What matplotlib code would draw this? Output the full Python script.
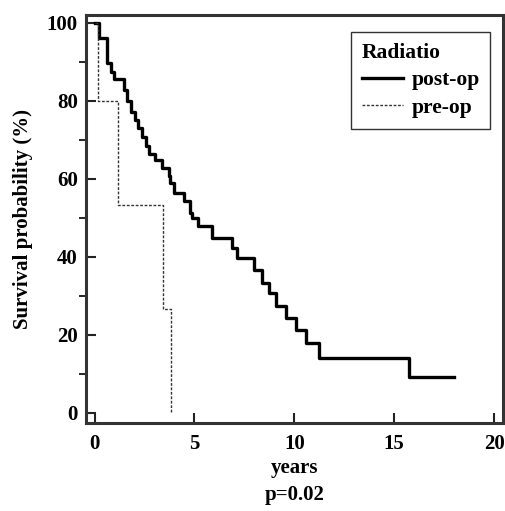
import matplotlib.pyplot as plt
from matplotlib.ticker import MultipleLocator

plt.rcParams.update({"font.family": ["Liberation Serif", "DejaVu Serif"],
                     "font.weight": "bold", "axes.labelweight": "bold"})

# Kaplan-Meier steps (years, survival %)
post_t = [0, 0.2, 0.62, 0.82, 0.95, 1.45, 1.62, 1.8, 2.0, 2.17, 2.35, 2.55, 2.72,
          3.04, 3.38, 3.72, 3.78, 3.96, 4.46, 4.8, 4.88, 5.2, 5.89, 6.89, 7.11,
          7.98, 8.4, 8.73, 9.07, 9.57, 10.08, 10.58, 11.25, 15.75, 18.0]
post_s = [100, 96, 89.8, 87.5, 85.6, 82.9, 80, 77.1, 75, 73, 70.8, 68.5, 66.3,
          64.9, 62.7, 60.8, 58.9, 56.3, 54.2, 51.2, 49.9, 47.8, 44.8, 42.2, 39.7,
          36.7, 33.3, 30.7, 27.3, 24.4, 21.3, 17.9, 14.0, 9.3, 9.3]
pre_t = [0, 0.16, 1.16, 3.41, 3.83]
pre_s = [100, 80, 53.3, 26.7, 0]
xticks = [0, 5, 10, 15, 20]
yticks = [0, 20, 40, 60, 80, 100]

fig = plt.figure(figsize=(5.06, 5.11), dpi=100)
ax = fig.add_axes([86/506, 1 - 423/511, 417/506, 408/511])

ax.step(post_t, post_s, where="post", color="black", lw=2.4, label="post-op")
ax.step(pre_t, pre_s, where="post", color="#333333", lw=1.0,
        dashes=(2.0, 1.2), label="pre-op")

ax.set_xlim(-0.43, 20.45)
ax.set_ylim(-2.6, 102)
ax.set_xticks(xticks)
ax.set_yticks(yticks)
ax.yaxis.set_minor_locator(MultipleLocator(10))
ax.tick_params(direction="in", labelsize=15, width=1.5, color="#222222")
ax.tick_params(axis="y", which="major", length=7, pad=6)
ax.tick_params(axis="y", which="minor", length=5, width=1.2)
ax.tick_params(axis="x", length=7, pad=8)
for sp in ax.spines.values():
    sp.set_linewidth(2.2)
    sp.set_color("#333333")

ax.set_ylabel("Survival probability (%)", fontsize=15, labelpad=10)
ax.set_xlabel("years\np=0.02", fontsize=15, labelpad=3, linespacing=1.45)

leg = ax.legend(title="Radiatio", loc="upper left",
                bbox_to_anchor=(351/506, 1 - 32/511), bbox_transform=fig.transFigure,
                fontsize=15.5, title_fontsize=15.5, alignment="left",
                handlelength=1.9, frameon=True, fancybox=False, borderaxespad=0,
                borderpad=0.5, labelspacing=0.35, handletextpad=0.4)
leg.get_frame().set_edgecolor("black")
leg.get_frame().set_linewidth(1.0)
leg.get_title().set_fontweight("bold")

fig.savefig("out.png", dpi=100)
